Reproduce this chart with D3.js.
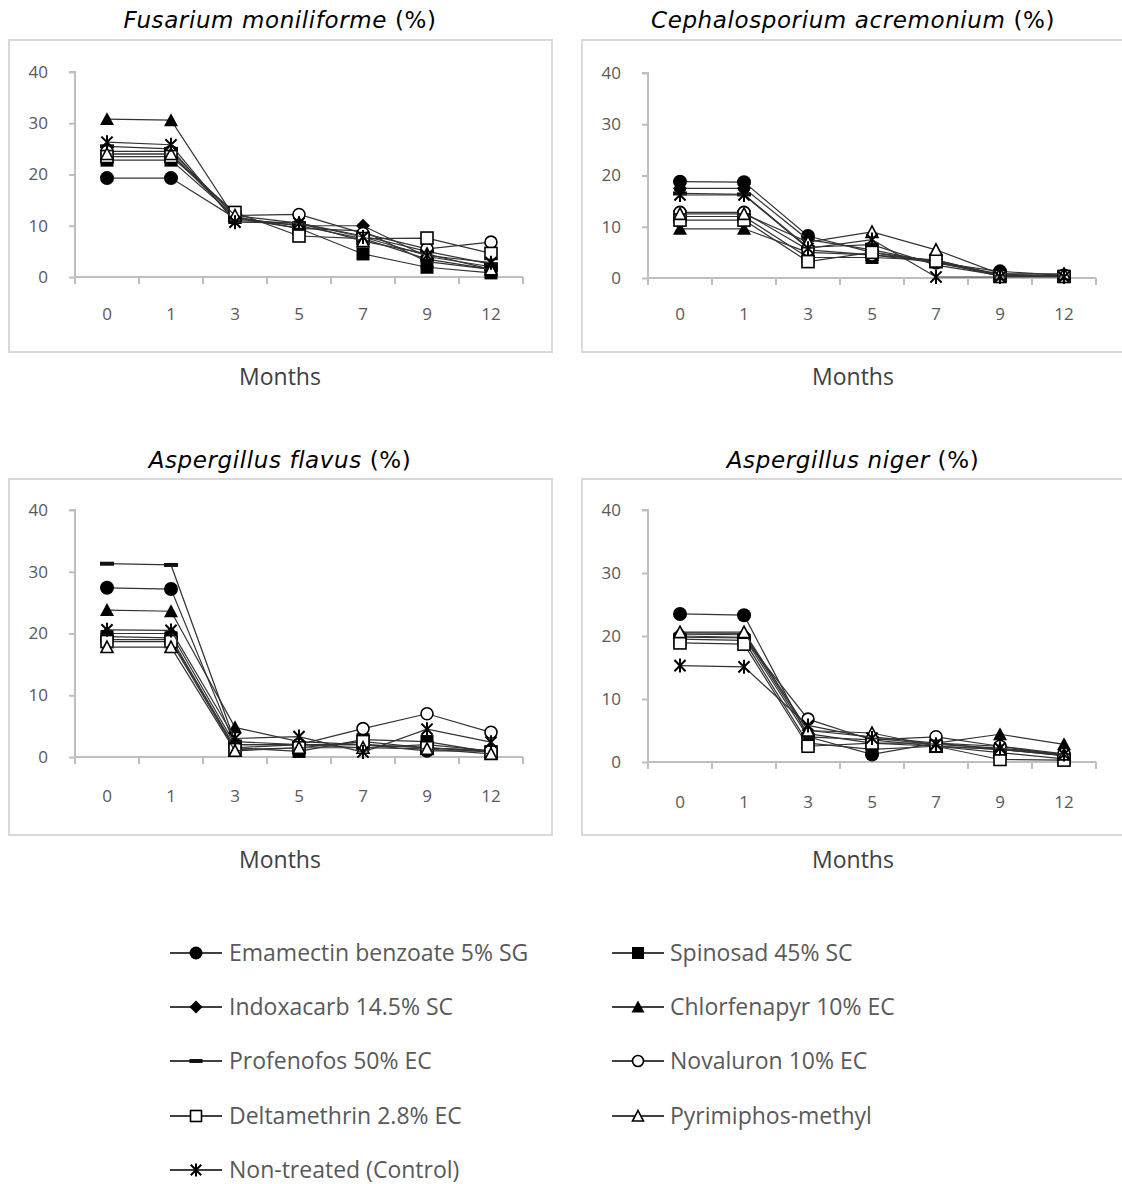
<!DOCTYPE html>
<html><head><meta charset="utf-8">
<script src="https://cdn.jsdelivr.net/npm/d3@7"></script>
<style>body{margin:0;background:#fff} svg{display:block}</style>
</head><body><svg id="c" width="1122" height="1184"></svg>
<script>
// ---------- DATA ----------
const months = ["0","1","3","5","7","9","12"];
const yTicks = [0,10,20,30,40];
const seriesNames = [
  "Emamectin benzoate 5% SG","Spinosad 45% SC","Indoxacarb 14.5% SC","Chlorfenapyr 10% EC",
  "Profenofos 50% EC","Novaluron 10% EC","Deltamethrin 2.8% EC","Pyrimiphos-methyl","Non-treated (Control)"
];
const markerTypes = ["circleFilled","squareFilled","diamond","triangleFilled","dash","circleOpen","squareOpen","triangleOpen","star"];
const panelTitles = ["Fusarium moniliforme","Cephalosporium acremonium","Aspergillus flavus","Aspergillus niger"];
const titleSuffix = " (%)";
const xAxisTitle = "Months";

const fusarium = [
  [19.3,19.3,11.5,10.0,7.5,3.5,1.5],
  [22.8,22.8,11.8,9.5,4.5,1.9,0.8],
  [24.0,24.0,11.5,10.0,10.0,4.0,2.0],
  [30.8,30.6,11.5,9.5,9.0,3.0,1.5],
  [25.5,25.0,11.0,10.5,8.0,5.0,2.5],
  [24.5,24.5,12.0,12.2,8.5,5.5,6.8],
  [23.5,23.5,12.6,8.0,7.5,7.6,4.6],
  [24.0,24.0,12.0,10.5,7.0,4.5,1.5],
  [26.3,25.8,10.7,10.5,7.8,4.2,2.8]
];
const cephalosporium = [
  [18.8,18.7,8.2,5.0,3.0,1.3,0.5],
  [12.0,12.0,4.0,4.0,3.5,0.5,0.3],
  [17.5,17.5,7.5,5.5,3.0,0.8,0.3],
  [9.6,9.6,5.0,4.5,3.0,0.5,0.3],
  [16.5,16.3,6.0,6.5,2.5,0.5,0.3],
  [12.8,12.8,5.5,4.5,3.5,0.5,0.5],
  [11.3,11.3,3.2,5.0,3.3,0.3,0.3],
  [12.5,12.5,7.0,9.0,5.5,0.8,0.8],
  [16.2,16.2,5.8,7.5,0.2,0.2,0.2]
];
const aspFlavus = [
  [27.4,27.2,2.0,2.0,2.0,1.0,1.0],
  [19.5,19.3,1.5,0.9,2.8,2.5,0.8],
  [20.0,20.0,2.0,2.0,2.0,1.5,1.0],
  [23.8,23.6,4.8,2.5,2.0,1.5,1.0],
  [31.3,31.1,2.5,2.0,1.5,2.0,1.0],
  [19.0,19.0,1.5,2.0,4.6,7.0,4.0],
  [18.7,18.7,1.2,1.5,2.5,1.5,0.8],
  [17.8,17.8,1.0,1.5,1.5,1.3,0.5],
  [20.6,20.5,3.0,3.3,0.8,4.5,2.4]
];
const aspNiger = [
  [23.5,23.3,4.0,1.2,3.0,2.0,1.0],
  [19.5,19.3,3.0,2.0,2.5,1.5,0.5],
  [20.3,20.2,4.5,3.0,3.0,2.5,1.0],
  [20.5,20.4,5.0,4.0,3.0,4.4,2.8],
  [20.0,19.8,4.0,3.5,2.5,2.0,1.0],
  [19.8,19.7,6.8,3.5,4.0,2.5,1.3],
  [18.9,18.7,2.5,3.0,2.5,0.4,0.3],
  [20.6,20.6,5.0,4.6,2.5,2.0,1.2],
  [15.3,15.1,5.8,3.8,2.8,2.2,1.2]
];
const panelData = [fusarium, cephalosporium, aspFlavus, aspNiger];

// ---------- LAYOUT ----------
const layouts = [
  {box:[9,40,543,312],  x0:75,  x1:523,  yTop:72,  yBot:277, titleX:280, titleY:28,  xlabY:320, monthsY:385},
  {box:[582,40,545,312],x0:648, x1:1096, yTop:73,  yBot:278, titleX:853, titleY:28,  xlabY:320, monthsY:385},
  {box:[9,479,543,356], x0:75,  x1:523,  yTop:510, yBot:757, titleX:280, titleY:468, xlabY:802, monthsY:868},
  {box:[582,479,545,356],x0:648,x1:1096, yTop:510, yBot:762, titleX:853, titleY:468, xlabY:808, monthsY:868}
];
const FONT = "'Open Sans', 'Noto Sans', sans-serif";
const TITLE_FONT = "'DejaVu Sans', 'Open Sans', sans-serif";
const svg = d3.select("#c");

function drawMarker(g, type, x, y, s) {
  const r = s/2;
  const stroke = "#000";
  switch(type){
    case "circleFilled": g.append("circle").attr("cx",x).attr("cy",y).attr("r",r).attr("fill","#000"); break;
    case "circleOpen": g.append("circle").attr("cx",x).attr("cy",y).attr("r",r-1).attr("fill","#fff").attr("stroke",stroke).attr("stroke-width",1.6); break;
    case "squareFilled": g.append("rect").attr("x",x-r+0.5).attr("y",y-r+0.5).attr("width",s-1).attr("height",s-1).attr("fill","#000"); break;
    case "squareOpen": g.append("rect").attr("x",x-r+1).attr("y",y-r+1).attr("width",s-2).attr("height",s-2).attr("fill","#fff").attr("stroke",stroke).attr("stroke-width",1.6); break;
    case "diamond": g.append("path").attr("d",`M${x},${y-r}L${x+r},${y}L${x},${y+r}L${x-r},${y}Z`).attr("fill","#000"); break;
    case "triangleFilled": g.append("path").attr("d",`M${x},${y-r}L${x+r},${y+r*0.85}L${x-r},${y+r*0.85}Z`).attr("fill","#000"); break;
    case "triangleOpen": g.append("path").attr("d",`M${x},${y-r+1}L${x+r-1},${y+r*0.85-0.5}L${x-r+1},${y+r*0.85-0.5}Z`).attr("fill","#fff").attr("stroke",stroke).attr("stroke-width",1.6); break;
    case "dash": g.append("rect").attr("x",x-r).attr("y",y-2).attr("width",s).attr("height",4).attr("fill","#111"); break;
    case "star": {
      const q = r*0.8;
      g.append("path").attr("d",`M${x-q},${y-q}L${x+q},${y+q}M${x+q},${y-q}L${x-q},${y+q}M${x},${y-r}L${x},${y+r}`)
        .attr("stroke",stroke).attr("stroke-width",2).attr("fill","none");
      break;
    }
  }
}

layouts.forEach((L, pi) => {
  const g = svg.append("g");
  const [bx,by,bw,bh] = L.box;
  g.append("rect").attr("x",bx).attr("y",by).attr("width",bw).attr("height",bh)
    .attr("fill","#fff").attr("stroke","#d9d9d9").attr("stroke-width",2);

  const x = d3.scaleBand().domain(months).range([L.x0, L.x1]);
  const y = d3.scaleLinear().domain([0,40]).range([L.yBot, L.yTop]);

  // y axis
  const ya = g.append("g").attr("transform",`translate(${L.x0},0)`)
    .call(d3.axisLeft(y).tickValues(yTicks).tickSize(6).tickPadding(21));
  ya.select(".domain").attr("stroke","#bfbfbf").attr("stroke-width",2).attr("d",`M-6,${L.yTop}H0V${L.yBot}`);
  ya.selectAll(".tick line").attr("stroke","#bfbfbf").attr("stroke-width",2);
  ya.selectAll(".tick text").attr("fill","#595959").style("font-family",FONT).style("font-size","17px");

  // x axis
  const xa = g.append("g").attr("transform",`translate(0,${L.yBot})`)
    .call(d3.axisBottom(x).tickSize(0).tickPadding(L.xlabY - L.yBot - 12));
  xa.select(".domain").attr("stroke","#bfbfbf").attr("stroke-width",2).attr("d",`M${L.x0},0H${L.x1}`);
  xa.selectAll(".tick text").attr("fill","#595959").style("font-family",FONT).style("font-size","17px");
  const bounds = months.map(m => x(m)).concat([L.x1]);
  xa.selectAll("line.sep").data(bounds).enter().append("line").attr("class","sep")
    .attr("x1",d=>d).attr("x2",d=>d).attr("y1",0).attr("y2",7)
    .attr("stroke","#bfbfbf").attr("stroke-width",2);

  // title
  const t = g.append("text").attr("x",L.titleX).attr("y",L.titleY).attr("text-anchor","middle")
    .style("font-family",TITLE_FONT).style("font-size","23px").style("letter-spacing","0.6px").attr("fill","#000");
  t.append("tspan").style("font-style","italic").text(panelTitles[pi]);
  t.append("tspan").text(titleSuffix);

  // months label
  g.append("text").attr("x",L.titleX).attr("y",L.monthsY).attr("text-anchor","middle")
    .style("font-family",FONT).style("font-size","23px").attr("fill","#404040").text(xAxisTitle);

  // series
  const cx = m => x(m) + x.bandwidth()/2;
  const line = d3.line().x((d,i)=>cx(months[i])).y(d=>y(d));
  panelData[pi].forEach((vals, si) => {
    const sg = g.append("g");
    sg.append("path").attr("d",line(vals)).attr("fill","none").attr("stroke","#333").attr("stroke-width",1.2);
    vals.forEach((v,i) => drawMarker(sg, markerTypes[si], cx(months[i]), y(v), 14));
  });
});

// legend
const legRows = [953,1007,1061,1116,1170];
const legCols = [{lx:170, tx:229},{lx:612, tx:670}];
seriesNames.forEach((name, i) => {
  const col = legCols[i % 2];
  const yy = legRows[Math.floor(i/2)];
  const g = svg.append("g");
  g.append("line").attr("x1",col.lx).attr("x2",col.lx+52).attr("y1",yy).attr("y2",yy).attr("stroke","#000").attr("stroke-width",1.5);
  drawMarker(g, markerTypes[i], col.lx+26, yy, 13);
  g.append("text").attr("x",col.tx).attr("y",yy+8).style("font-family",FONT).style("font-size","23px")
    .attr("fill","#595959").text(name);
});
</script></body></html>
